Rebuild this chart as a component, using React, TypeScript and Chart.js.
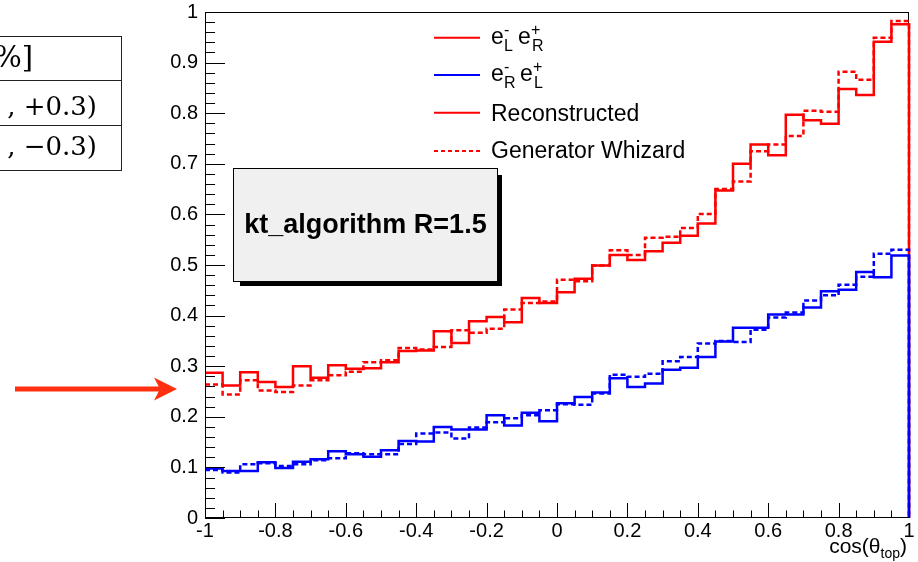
import React, { useEffect, useRef } from "react";
import { Chart, registerables } from "chart.js";

Chart.register(...registerables);

// Binning of cos(theta_top): 40 bins over [-1, 1]
const X_MIN = -1;
const X_MAX = 1;
const BIN_WIDTH = 0.05;

// e-_L e+_R, reconstructed (solid red)
const recoLR = [
  0.287, 0.262, 0.288, 0.269, 0.259, 0.300, 0.277, 0.302, 0.295, 0.296,
  0.308, 0.330, 0.331, 0.369, 0.346, 0.389, 0.397, 0.387, 0.435, 0.425,
  0.446, 0.473, 0.499, 0.520, 0.510, 0.527, 0.544, 0.558, 0.582, 0.647,
  0.700, 0.738, 0.717, 0.797, 0.786, 0.779, 0.848, 0.836, 0.941, 0.976,
];

// e-_L e+_R, generator level (dashed red)
const genLR = [
  0.264, 0.244, 0.272, 0.252, 0.249, 0.262, 0.272, 0.282, 0.289, 0.308,
  0.312, 0.336, 0.333, 0.338, 0.371, 0.366, 0.374, 0.412, 0.425, 0.428,
  0.471, 0.468, 0.499, 0.529, 0.520, 0.554, 0.556, 0.573, 0.601, 0.650,
  0.665, 0.725, 0.738, 0.755, 0.805, 0.803, 0.882, 0.866, 0.949, 0.982,
];

// e-_R e+_L, reconstructed (solid blue)
const recoRL = [
  0.098, 0.093, 0.093, 0.110, 0.099, 0.111, 0.116, 0.132, 0.126, 0.121,
  0.134, 0.152, 0.151, 0.180, 0.175, 0.175, 0.203, 0.183, 0.208, 0.191,
  0.227, 0.239, 0.248, 0.276, 0.259, 0.266, 0.293, 0.297, 0.318, 0.349,
  0.376, 0.376, 0.402, 0.402, 0.416, 0.448, 0.451, 0.486, 0.476, 0.519,
];

// e-_R e+_L, generator level (dashed blue)
const genRL = [
  0.095, 0.090, 0.106, 0.108, 0.103, 0.106, 0.114, 0.118, 0.128, 0.126,
  0.126, 0.146, 0.167, 0.169, 0.157, 0.179, 0.189, 0.197, 0.203, 0.213,
  0.225, 0.224, 0.246, 0.283, 0.279, 0.285, 0.310, 0.318, 0.345, 0.350,
  0.348, 0.372, 0.396, 0.406, 0.430, 0.440, 0.461, 0.477, 0.522, 0.530,
];

const X_MAJOR = 0.2;
const X_MINOR_DIV = 4;
const Y_MAJOR = 0.1;
const Y_MINOR_DIV = 5;

const RED = "#ff0000";
const BLUE = "#0000ff";
const SANS = "'Liberation Sans', Arial, Helvetica, sans-serif";

// Outline of a histogram: steps across every bin and drops to 0 at the high edge.
function histogramOutline(values: number[]) {
  const pts: { x: number; y: number }[] = [];
  values.forEach((v, i) => pts.push({ x: X_MIN + i * BIN_WIDTH, y: v }));
  pts.push({ x: X_MAX, y: values[values.length - 1] });
  pts.push({ x: X_MAX, y: 0 });
  return pts;
}

const fmt = (v: number | string) => String(Math.round(Number(v) * 100) / 100);

// ROOT-style frame with ticks drawn on the inside of the axes
const rootFrame = {
  id: "rootFrame",
  beforeDatasetsDraw(chart: any) {
    const { ctx, chartArea: a } = chart;
    ctx.save();
    ctx.strokeStyle = "#000";
    ctx.lineWidth = 1;
    ctx.beginPath();
    ctx.moveTo(a.left, a.top + 0.5);
    ctx.lineTo(a.right, a.top + 0.5);
    ctx.moveTo(a.right - 0.5, a.top);
    ctx.lineTo(a.right - 0.5, a.bottom);
    ctx.stroke();
    ctx.restore();
  },
  afterDatasetsDraw(chart: any) {
    const { ctx, chartArea: a, scales } = chart;
    const xs = scales.x;
    const ys = scales.y;
    ctx.save();
    ctx.strokeStyle = "#000";
    ctx.lineWidth = 1;
    ctx.beginPath();
    ctx.moveTo(a.left + 0.5, a.top);
    ctx.lineTo(a.left + 0.5, a.bottom);
    ctx.moveTo(a.left, a.bottom - 0.5);
    ctx.lineTo(a.right, a.bottom - 0.5);
    const yMin = ys.min;
    const yMax = ys.max;
    const yStep = Y_MAJOR / Y_MINOR_DIV;
    const nY = Math.round((yMax - yMin) / yStep);
    for (let i = 0; i <= nY; i++) {
      const py = Math.round(ys.getPixelForValue(yMin + i * yStep)) + 0.5;
      const len = i % Y_MINOR_DIV === 0 ? 20 : 10;
      ctx.moveTo(a.left, py);
      ctx.lineTo(a.left + len, py);
    }
    const xMin = xs.min;
    const xMax = xs.max;
    const xStep = X_MAJOR / X_MINOR_DIV;
    const nX = Math.round((xMax - xMin) / xStep);
    for (let i = 0; i <= nX; i++) {
      const px = Math.round(xs.getPixelForValue(xMin + i * xStep)) + 0.5;
      const len = i % X_MINOR_DIV === 0 ? 15 : 7.5;
      ctx.moveTo(px, a.bottom);
      ctx.lineTo(px, a.bottom - len);
    }
    ctx.stroke();
    ctx.restore();
  },
};

function stepSet(label: string, values: number[], color: string, dashed: boolean, order: number) {
  return {
    label,
    data: histogramOutline(values),
    borderColor: color,
    backgroundColor: color,
    borderWidth: 2.5,
    borderDash: dashed ? [5, 3] : [],
    stepped: true,
    pointRadius: 0,
    fill: false,
    clip: false,
    order,
  };
}

const noScalePadding = (s: any) => {
  s.paddingTop = 0;
  s.paddingBottom = 0;
  s.paddingLeft = 0;
  s.paddingRight = 0;
};

export default function App() {
  const canvasRef = useRef<HTMLCanvasElement | null>(null);

  useEffect(() => {
    const canvas = canvasRef.current;
    if (!canvas) return;
    const chart = new Chart(canvas, {
      type: "line",
      data: {
        datasets: [
          stepSet("e-R e+L reconstructed", recoRL, BLUE, false, 0),
          stepSet("e-R e+L generator", genRL, BLUE, true, 1),
          stepSet("e-L e+R reconstructed", recoLR, RED, false, 2),
          stepSet("e-L e+R generator", genLR, RED, true, 3),
        ] as any,
      },
      options: {
        responsive: false,
        animation: false,
        events: [],
        layout: { padding: { top: 12, right: 9, left: 0, bottom: 0 } },
        plugins: { legend: { display: false }, tooltip: { enabled: false } },
        scales: {
          x: {
            type: "linear",
            min: X_MIN,
            max: X_MAX,
            grid: { display: false, drawTicks: false },
            border: { display: false },
            ticks: {
              stepSize: X_MAJOR,
              padding: 1,
              color: "#000",
              font: { family: SANS, size: 20 },
              maxRotation: 0,
              autoSkip: false,
              callback: (v: any) => fmt(v),
            },
            afterFit: (s: any) => {
              s.height = 44;
              noScalePadding(s);
            },
          },
          y: {
            type: "linear",
            min: 0,
            max: 1,
            grid: { display: false, drawTicks: false },
            border: { display: false },
            ticks: {
              stepSize: Y_MAJOR,
              padding: 7,
              color: "#000",
              font: { family: SANS, size: 20 },
              callback: (v: any) => fmt(v),
            },
            afterFit: (s: any) => {
              s.width = 205;
              noScalePadding(s);
            },
          },
        },
      } as any,
      plugins: [rootFrame],
    });
    return () => chart.destroy();
  }, []);

  return (
    <div style={{ position: "absolute", left: 0, top: 0, width: 918, height: 562, background: "#fff", overflow: "hidden" }}>
      <canvas ref={canvasRef} width={918} height={562} style={{ display: "block", position: "absolute", left: 0, top: 0 }} />
      <svg width={918} height={562} style={{ position: "absolute", left: 0, top: 0 }}>
        {/* polarisation table, partly outside the page */}
        <g stroke="#222" strokeWidth={1}>
          <line x1={-2} y1={36.5} x2={121.5} y2={36.5} />
          <line x1={-2} y1={80.5} x2={121.5} y2={80.5} />
          <line x1={-2} y1={125.5} x2={121.5} y2={125.5} />
          <line x1={-2} y1={170.5} x2={121.5} y2={170.5} />
          <line x1={121.5} y1={36} x2={121.5} y2={171} />
        </g>
        <g fontFamily="'DejaVu Serif', serif" fill="#000">
          <text x={33} y={67} textAnchor="end" fontSize={29}>[%]</text>
          <text x={97} y={115} textAnchor="end" fontSize={26}>, +0.3)</text>
          <text x={97} y={155} textAnchor="end" fontSize={26}>, −0.3)</text>
        </g>

        {/* arrow pointing at the axis */}
        <g fill="#ff3010" stroke="none">
          <rect x={15} y={386.5} width={148} height={5} />
          <polygon points="177,389 154,377.5 160,389 154,400.5" />
        </g>

        {/* algorithm label box */}
        <rect x={240} y={175} width={262} height={111} fill="#000" />
        <rect x={233.5} y={168.5} width={264} height={113} fill="#f0f0f0" stroke="#000" strokeWidth={1} />
        <text x={365.5} y={233} textAnchor="middle" fontFamily={SANS} fontWeight="bold" fontSize={27} fill="#000">
          kt_algorithm R=1.5
        </text>

        {/* legend */}
        <g strokeWidth={2} fill="none">
          <line x1={434} y1={37.7} x2={480} y2={37.7} stroke={RED} />
          <line x1={434} y1={75} x2={480} y2={75} stroke={BLUE} />
          <line x1={434} y1={112.7} x2={480} y2={112.7} stroke={RED} />
          <line x1={434} y1={151} x2={480} y2={151} stroke={RED} strokeDasharray="4 3" />
        </g>
        <g fontFamily={SANS} fill="#000">
          <text x={491} y={44} fontSize={23}>e</text>
          <text x={504} y={35} fontSize={16}>-</text>
          <text x={504} y={51} fontSize={16}>L</text>
          <text x={518} y={44} fontSize={23}>e</text>
          <text x={531} y={35} fontSize={16}>+</text>
          <text x={532} y={51} fontSize={16}>R</text>

          <text x={491} y={81.3} fontSize={23}>e</text>
          <text x={504} y={72.3} fontSize={16}>-</text>
          <text x={504} y={88.3} fontSize={16}>R</text>
          <text x={520} y={81.3} fontSize={23}>e</text>
          <text x={533} y={72.3} fontSize={16}>+</text>
          <text x={534} y={88.3} fontSize={16}>L</text>

          <text x={491} y={121} fontSize={23}>Reconstructed</text>
          <text x={491} y={158} fontSize={23}>Generator Whizard</text>
        </g>

        {/* x axis title */}
        <text x={907} y={553} textAnchor="end" fontFamily={SANS} fontSize={21} fill="#000">
          cos(θ<tspan fontSize={14} dy={5}>top</tspan><tspan dy={-5}>)</tspan>
        </text>
      </svg>
    </div>
  );
}
